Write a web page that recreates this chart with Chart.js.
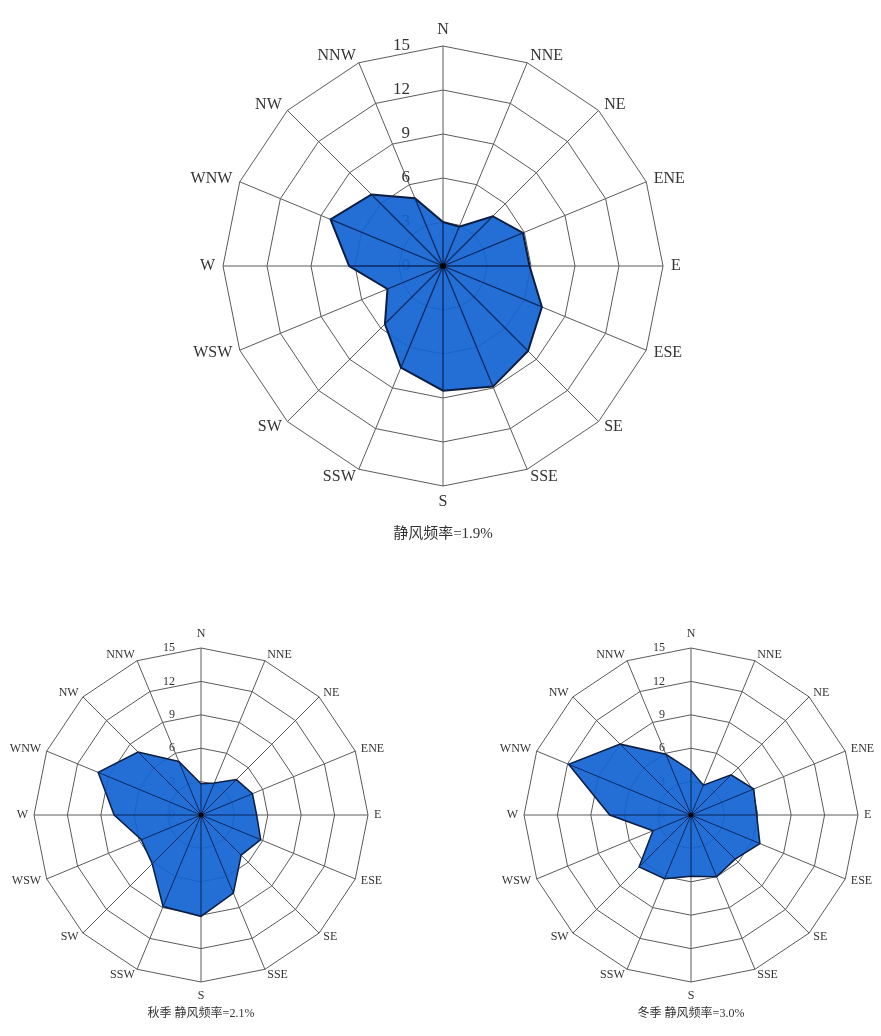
<!DOCTYPE html>
<html>
<head>
<meta charset="utf-8">
<script src="https://cdn.jsdelivr.net/npm/chart.js@4/dist/chart.umd.min.js"></script>
<style>
  body { margin: 0; background: #fff; width: 881px; height: 1036px; overflow: hidden; position: relative; }
  canvas { position: absolute; }
  .cap { position: absolute; text-align: center; color: #333; font-family: 'Liberation Serif', 'Noto Sans CJK SC', serif; white-space: nowrap; }
</style>
</head>
<body>
<canvas id="roseMain" width="530" height="530" style="left:178px;top:1px"></canvas>
<canvas id="roseAutumn" width="406" height="406" style="left:-2px;top:612px"></canvas>
<canvas id="roseWinter" width="406" height="406" style="left:488px;top:612px"></canvas>
<div class="cap" style="left:343px;top:521px;width:200px;font-size:15px">静风频率=1.9%</div>
<div class="cap" style="left:101px;top:1003px;width:200px;font-size:12px">秋季 静风频率=2.1%</div>
<div class="cap" style="left:591px;top:1003px;width:200px;font-size:12px">冬季 静风频率=3.0%</div>
<script>
// wind directions, clockwise from north
const directions = ['N', 'NNE', 'NE', 'ENE', 'E', 'ESE', 'SE', 'SSE', 'S', 'SSW', 'SW', 'WSW', 'W', 'WNW', 'NW', 'NNW'];
const tickValues = [0, 3, 6, 9, 12, 15];

// wind frequency (%) per direction
const mainFreq = [3.0, 2.9, 4.8, 5.9, 5.9, 7.3, 8.2, 8.9, 8.5, 7.5, 5.6, 4.1, 6.4, 8.3, 6.9, 5.0];
const autumnFreq = [2.8, 3.1, 4.5, 5.0, 5.0, 5.8, 5.1, 7.6, 9.1, 8.9, 6.2, 5.8, 7.8, 10.0, 8.0, 5.2];
const winterFreq = [4.0, 2.9, 5.1, 6.1, 5.9, 6.7, 5.6, 6.0, 5.5, 6.2, 6.6, 3.7, 7.3, 11.9, 9.0, 5.9];

// tick numbers, direction names, inner spokes and centre dot
const roseDecor = {
    id: 'roseDecor',
    beforeDatasetsDraw(chart, args, opts) {
        const r = chart.scales.r;
        const ctx = chart.ctx;
        ctx.save();
        ctx.fillStyle = '#333';
        ctx.font = opts.tickFont;
        ctx.textAlign = 'right';
        ctx.textBaseline = 'middle';
        tickValues.forEach(v => {
            ctx.fillText(String(v), r.xCenter + opts.tickOffset, r.yCenter - r.getDistanceFromCenterForValue(v));
        });

        ctx.font = opts.labelFont;
        directions.forEach((name, i) => {
            const a = r.getIndexAngle(i);
            const sx = Math.sin(a), cy = -Math.cos(a);
            const vertical = Math.abs(sx) < 0.01;
            const pos = r.getPointPosition(i, r.drawingArea + (vertical ? opts.padNS : opts.pad));
            if (vertical) {
                ctx.textAlign = 'center';
                ctx.textBaseline = cy < 0 ? 'bottom' : 'top';
            } else {
                ctx.textAlign = sx > 0 ? 'left' : 'right';
                ctx.textBaseline = 'middle';
            }
            ctx.fillText(name, pos.x, pos.y);
        });
        ctx.restore();
    },
    afterDatasetsDraw(chart, args, opts) {
        const r = chart.scales.r;
        const ctx = chart.ctx;
        const values = chart.data.datasets[0].data;
        ctx.save();
        ctx.strokeStyle = '#0e2a62';
        ctx.lineWidth = opts.spokeWidth;
        values.forEach((v, i) => {
            const p = r.getPointPositionForValue(i, v);
            ctx.beginPath();
            ctx.moveTo(r.xCenter, r.yCenter);
            ctx.lineTo(p.x, p.y);
            ctx.stroke();
        });
        ctx.fillStyle = '#000';
        ctx.beginPath();
        ctx.arc(r.xCenter, r.yCenter, opts.dot, 0, Math.PI * 2);
        ctx.fill();
        ctx.restore();
    }
};

const createRose = (canvasId, values, big) => {
    const ctx = document.getElementById(canvasId).getContext('2d');
    return new Chart(ctx, {
        type: 'radar',
        data: {
            labels: directions,
            datasets: [{
                data: values,
                backgroundColor: 'rgba(18, 100, 210, 0.93)',
                borderColor: '#0b1d40',
                borderWidth: big ? 2 : 1.5,
                pointRadius: 0,
                fill: true,
                tension: 0
            }]
        },
        options: {
            responsive: false,
            animation: false,
            devicePixelRatio: 1,
            layout: { padding: big ? 45 : 36 },
            plugins: {
                legend: { display: false },
                tooltip: { enabled: false },
                roseDecor: {
                    tickFont: big ? '17px "Liberation Serif"' : '12px "Liberation Serif"',
                    labelFont: big ? '16px "Liberation Serif"' : '12px "Liberation Serif"',
                    tickOffset: big ? -33 : -26,
                    pad: big ? 8 : 6,
                    padNS: 8,
                    spokeWidth: big ? 1.3 : 1,
                    dot: big ? 3 : 2.5
                }
            },
            scales: {
                r: {
                    min: 0,
                    max: 15,
                    ticks: { stepSize: 3, display: false },
                    pointLabels: { display: false },
                    grid: { color: '#5a5a5a', lineWidth: 1 },
                    angleLines: { color: '#5a5a5a', lineWidth: 1 }
                }
            }
        },
        plugins: [roseDecor]
    });
};

createRose('roseMain', mainFreq, true);
createRose('roseAutumn', autumnFreq, false);
createRose('roseWinter', winterFreq, false);
</script>
</body>
</html>
